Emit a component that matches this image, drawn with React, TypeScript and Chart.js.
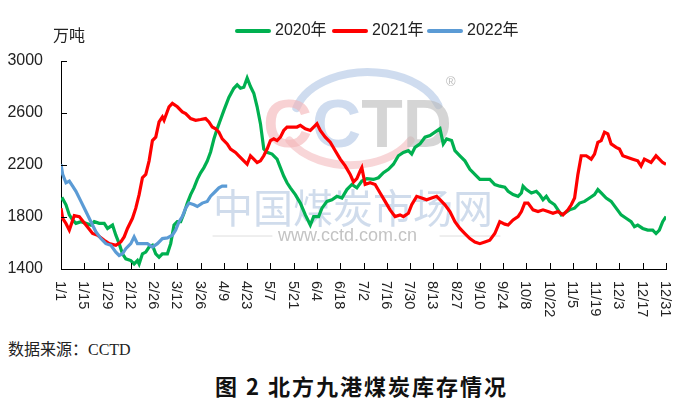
import { useEffect, useRef } from "react"
import { Chart, registerables, type Plugin } from "chart.js"

Chart.register(...registerables)

const SANS = '"Liberation Sans", "Noto Sans CJK SC", sans-serif'

// x tick labels, one every 14 days (day 0 = 1/1, day 364 = 12/31)
const tickLabels = [
  "1/1", "1/15", "1/29", "2/12", "2/26", "3/12", "3/26", "4/9", "4/23", "5/7",
  "5/21", "6/4", "6/18", "7/2", "7/16", "7/30", "8/13", "8/27", "9/10", "9/24",
  "10/8", "10/22", "11/5", "11/19", "12/3", "12/17", "12/31",
]
const yTicks = [1400, 1800, 2200, 2600, 3000]

// 2020年 (day of year, 万吨)
const days2020 = [
  0, 1, 3, 5, 7, 9, 12, 15, 18, 20,
  23, 26, 28, 31, 33, 35, 37, 39, 42, 44,
  46, 47, 49, 51, 53, 55, 57, 59, 61, 64,
  66, 68, 70, 72, 74, 76, 78, 80, 82, 84,
  86, 88, 90, 92, 94, 96, 98, 101, 104, 106,
  108, 110, 112, 114, 116, 118, 120, 122, 124, 127,
  130, 132, 134, 136, 138, 141, 144, 147, 150, 152,
  155, 157, 160, 163, 166, 169, 172, 175, 178, 181,
  184, 188, 191, 194, 197, 200, 203, 206, 209, 211,
  213, 216, 219, 222, 225, 228, 230, 232, 235, 237,
  240, 243, 246, 249, 252, 255, 258, 261, 264, 267,
  269, 272, 275, 277, 278, 280, 283, 286, 288, 290,
  292, 294, 297, 299, 301, 303, 306, 309, 312, 315,
  318, 321, 323, 325, 328, 331, 334, 337, 340, 343,
  345, 347, 350, 353, 356, 358, 360, 362, 364,
]
const stock2020 = [
  1933, 1941, 1894, 1816, 1777, 1751, 1764, 1751, 1738, 1764,
  1751, 1751, 1712, 1738, 1660, 1595, 1517, 1478, 1465, 1439,
  1465, 1439, 1517, 1530, 1569, 1582, 1517, 1491, 1517, 1517,
  1595, 1738, 1764, 1764, 1829, 1907, 1972, 2024, 2090, 2140,
  2180, 2230, 2300, 2400, 2480, 2550, 2620, 2720, 2790, 2817,
  2791, 2798, 2869, 2804, 2752, 2648, 2518, 2323, 2297, 2284,
  2245, 2180, 2115, 2063, 2024, 1972, 1907, 1816, 1738, 1803,
  1803, 1868, 1920, 1933, 1959, 1946, 2011, 2050, 2024, 2076,
  2095, 2089, 2102, 2141, 2167, 2206, 2271, 2297, 2310, 2284,
  2336, 2362, 2414, 2427, 2453, 2479, 2362, 2401, 2388, 2310,
  2271, 2232, 2167, 2128, 2089, 2089, 2089, 2050, 2037, 2030,
  1998, 1972, 1959, 1985, 2037, 2011, 1985, 1998, 1972, 1933,
  1959, 1920, 1894, 1855, 1816, 1829, 1855, 1868, 1907, 1920,
  1946, 1972, 2011, 1985, 1946, 1920, 1868, 1816, 1790, 1764,
  1725, 1738, 1712, 1699, 1699, 1673, 1699, 1764, 1803,
]

// 2021年
const days2021 = [
  0, 1, 3, 5, 8, 11, 15, 19, 22, 26,
  29, 33, 36, 38, 40, 43, 45, 47, 49, 51,
  53, 55, 57, 59, 61, 62, 65, 67, 70, 73,
  75, 78, 81, 84, 87, 89, 91, 93, 95, 97,
  100, 102, 105, 107, 110, 112, 114, 116, 118, 120,
  122, 124, 126, 128, 130, 132, 134, 136, 139, 142,
  144, 147, 150, 152, 154, 156, 159, 162, 165, 168,
  171, 174, 176, 178, 180, 181, 183, 186, 189, 192,
  195, 198, 201, 204, 206, 209, 211, 214, 217, 220,
  223, 226, 228, 231, 234, 237, 240, 243, 246, 249,
  252, 255, 258, 261, 264, 267, 269, 272, 275, 277,
  279, 281, 284, 287, 290, 293, 296, 299, 302, 305,
  307, 309, 311, 313, 316, 319, 321, 323, 325, 327,
  329, 331, 334, 336, 338, 341, 344, 347, 349, 351,
  355, 358, 360, 362, 364,
]
const stock2021 = [
  1868, 1790, 1750, 1699, 1811, 1803, 1738, 1673, 1660, 1621,
  1595, 1582, 1608, 1647, 1712, 1790, 1868, 1972, 2102, 2128,
  2232, 2388, 2414, 2531, 2570, 2544, 2648, 2674, 2648, 2609,
  2596, 2557, 2544, 2550, 2557, 2531, 2492, 2479, 2453, 2401,
  2362, 2323, 2297, 2271, 2232, 2206, 2271, 2245, 2219, 2232,
  2271, 2323, 2388, 2401, 2388, 2414, 2466, 2492, 2492, 2492,
  2505, 2479, 2466, 2492, 2518, 2466, 2414, 2375, 2310, 2245,
  2193, 2128, 2070, 2095, 2154, 2180, 2050, 2063, 2050, 1985,
  1920, 1855, 1803, 1816, 1803, 1829, 1894, 1959, 1946, 1933,
  1946, 1959, 1933, 1894, 1842, 1764, 1712, 1673, 1634, 1608,
  1595, 1608, 1621, 1673, 1764, 1745, 1738, 1777, 1803, 1842,
  1907, 1907, 1855, 1842, 1855, 1842, 1829, 1842, 1816, 1855,
  1894, 1946, 2128, 2271, 2271, 2245, 2284, 2375, 2388, 2453,
  2440, 2362, 2336, 2323, 2271, 2258, 2245, 2232, 2193, 2245,
  2219, 2271, 2245, 2219, 2206,
]

// 2022年
const days2022 = [
  0, 1, 3, 5, 7, 9, 12, 15, 18, 21,
  24, 27, 30, 33, 35, 37, 39, 42, 44, 46,
  49, 52, 55, 58, 61, 64, 67, 69, 71, 73,
  75, 77, 80, 82, 85, 88, 90, 93, 95, 97,
  100,
]
const stock2022 = [
  2206, 2128, 2063, 2076, 2037, 1998, 1920, 1842, 1764, 1686,
  1634, 1595, 1582, 1530, 1504, 1517, 1556, 1595, 1647, 1595,
  1595, 1595, 1569, 1595, 1634, 1639, 1660, 1699, 1764, 1803,
  1868, 1907, 1894, 1881, 1907, 1920, 1960, 1998, 2024, 2037,
  2037,
]

const seriesNames = ["2020年", "2021年", "2022年"]
const seriesColors = ["#00B050", "#FF0000", "#5B9BD5"]

const toPoints = (days: number[], values: number[]) =>
  days.map((d, i) => ({ x: d, y: values[i] }))

const decorPlugin: Plugin<"line"> = {
  id: "decor",
  beforeDatasetsDraw(chart) {
    const { ctx } = chart
    ctx.save()
    // watermark: CCTD logo
    ctx.lineCap = "round"
    ctx.lineWidth = 8
    ctx.strokeStyle = "rgba(175,196,228,0.6)"
    ctx.beginPath()
    ctx.ellipse(368, 120, 74, 48, 0, Math.PI * 1.08, Math.PI * 1.9)
    ctx.stroke()
    ctx.strokeStyle = "rgba(244,186,190,0.6)"
    ctx.beginPath()
    ctx.ellipse(350, 120, 68, 45, 0, Math.PI * 0.15, Math.PI * 0.85)
    ctx.stroke()

    ctx.font = `bold 68px ${SANS}`
    ctx.textAlign = "left"
    ctx.textBaseline = "alphabetic"
    const letters: [string, string][] = [
      ["C", "rgba(244,178,182,0.6)"],
      ["C", "rgba(175,196,228,0.6)"],
      ["T", "rgba(185,185,185,0.6)"],
      ["D", "rgba(185,185,185,0.6)"],
    ]
    let lx = 263
    for (const [ch, col] of letters) {
      ctx.fillStyle = col
      ctx.fillText(ch, lx, 147)
      lx += ctx.measureText(ch).width
    }
    ctx.font = `13px ${SANS}`
    ctx.fillStyle = "rgba(170,170,170,0.8)"
    ctx.fillText("®", 446, 86)

    ctx.font = `40px "Noto Sans CJK SC", sans-serif`
    ctx.textBaseline = "middle"
    ctx.fillStyle = "rgba(176,196,224,0.6)"
    ctx.fillText("中国煤炭市场网", 213, 208)

    ctx.font = `18px ${SANS}`
    ctx.fillStyle = "rgba(170,170,170,0.7)"
    ctx.fillText("www.cctd.com.cn", 278, 236)
    ctx.strokeStyle = "rgba(200,200,200,0.6)"
    ctx.lineWidth = 1
    ctx.beginPath()
    ctx.moveTo(213, 236)
    ctx.lineTo(272, 236)
    ctx.moveTo(440, 236)
    ctx.lineTo(500, 236)
    ctx.stroke()
    ctx.restore()
  },
  afterDraw(chart) {
    const { ctx, chartArea } = chart
    const xs = chart.scales.x
    const ys = chart.scales.y
    ctx.save()

    // inside tick marks
    ctx.strokeStyle = "#000"
    ctx.lineWidth = 1
    ctx.beginPath()
    tickLabels.forEach((_, i) => {
      const px = Math.round(xs.getPixelForValue(i * 14)) + 0.5
      ctx.moveTo(px, chartArea.bottom)
      ctx.lineTo(px, chartArea.bottom - 6)
    })
    yTicks.forEach((v) => {
      const py = Math.round(ys.getPixelForValue(v)) + 0.5
      ctx.moveTo(chartArea.left, py)
      ctx.lineTo(chartArea.left + 6, py)
    })
    ctx.stroke()

    // x labels, rotated clockwise so they read top to bottom
    ctx.font = `14.5px ${SANS}`
    ctx.fillStyle = "#222"
    ctx.textAlign = "left"
    ctx.textBaseline = "middle"
    tickLabels.forEach((label, i) => {
      const px = xs.getPixelForValue(i * 14) - 1
      ctx.save()
      ctx.translate(px, chartArea.bottom + 12)
      ctx.rotate(Math.PI / 2)
      ctx.fillText(label, 0, 0)
      ctx.restore()
    })

    // unit
    ctx.font = `16px ${SANS}`
    ctx.fillText("万吨", 53, 37)

    // legend
    const legendX = [235, 332, 427]
    seriesNames.forEach((name, i) => {
      const x0 = legendX[i]
      ctx.strokeStyle = seriesColors[i]
      ctx.lineWidth = 4
      ctx.lineCap = "round"
      ctx.beginPath()
      ctx.moveTo(x0 + 2, 31)
      ctx.lineTo(x0 + 34, 31)
      ctx.stroke()
      ctx.fillStyle = "#222"
      ctx.fillText(name, x0 + 40, 31)
    })
    ctx.restore()
  },
}

export default function App() {
  const chartRef = useRef<HTMLCanvasElement>(null)
  const chartInstance = useRef<Chart | null>(null)

  useEffect(() => {
    document.body.style.margin = "0"
    if (!chartRef.current) return
    if (chartInstance.current) chartInstance.current.destroy()

    const ctx = chartRef.current.getContext("2d")
    if (!ctx) return

    const data = [
      toPoints(days2020, stock2020),
      toPoints(days2021, stock2021),
      toPoints(days2022, stock2022),
    ]

    chartInstance.current = new Chart(ctx, {
      type: "line",
      data: {
        datasets: seriesNames.map((name, i) => ({
          label: name,
          data: data[i],
          borderColor: seriesColors[i],
          backgroundColor: seriesColors[i],
          borderWidth: 3.2,
          pointRadius: 0,
          tension: 0,
          order: 3 - i,
        })),
      },
      options: {
        animation: false,
        responsive: true,
        maintainAspectRatio: false,
        layout: { padding: { left: 8, right: 17, top: 61, bottom: 58 } },
        plugins: {
          legend: { display: false },
          tooltip: { enabled: false },
        },
        scales: {
          x: {
            type: "linear",
            min: 0,
            max: 364,
            ticks: { display: false, stepSize: 14 },
            grid: { display: false },
            border: { display: true, color: "#000", width: 1 },
          },
          y: {
            min: 1400,
            max: 3000,
            ticks: {
              stepSize: 400,
              color: "#222",
              padding: 10,
              font: { family: SANS, size: 16 },
              callback: (v) => String(v),
            },
            grid: { display: false },
            border: { display: true, color: "#000", width: 1 },
            afterFit: (scale) => {
              scale.width = 53
            },
          },
        },
      },
      plugins: [decorPlugin],
    })

    return () => {
      if (chartInstance.current) {
        chartInstance.current.destroy()
        chartInstance.current = null
      }
    }
  }, [])

  return (
    <div style={{ position: "relative", width: 683, height: 412, background: "#fff" }}>
      <div style={{ position: "absolute", left: 0, top: 0, width: 683, height: 335 }}>
        <canvas ref={chartRef} />
      </div>
      <div
        style={{
          position: "absolute",
          left: 8,
          top: 340,
          fontSize: 16,
          lineHeight: "20px",
          color: "#222",
          fontFamily: '"Liberation Serif", "Noto Sans CJK SC", serif',
          whiteSpace: "nowrap",
        }}
      >
        数据来源：CCTD
      </div>
      <div
        style={{
          position: "absolute",
          left: 215,
          top: 372,
          fontSize: 22,
          lineHeight: "26px",
          fontWeight: "bold",
          letterSpacing: 2,
          color: "#111",
          fontFamily: '"Noto Sans CJK SC", sans-serif',
          whiteSpace: "nowrap",
        }}
      >
        图 2 北方九港煤炭库存情况
      </div>
    </div>
  )
}
